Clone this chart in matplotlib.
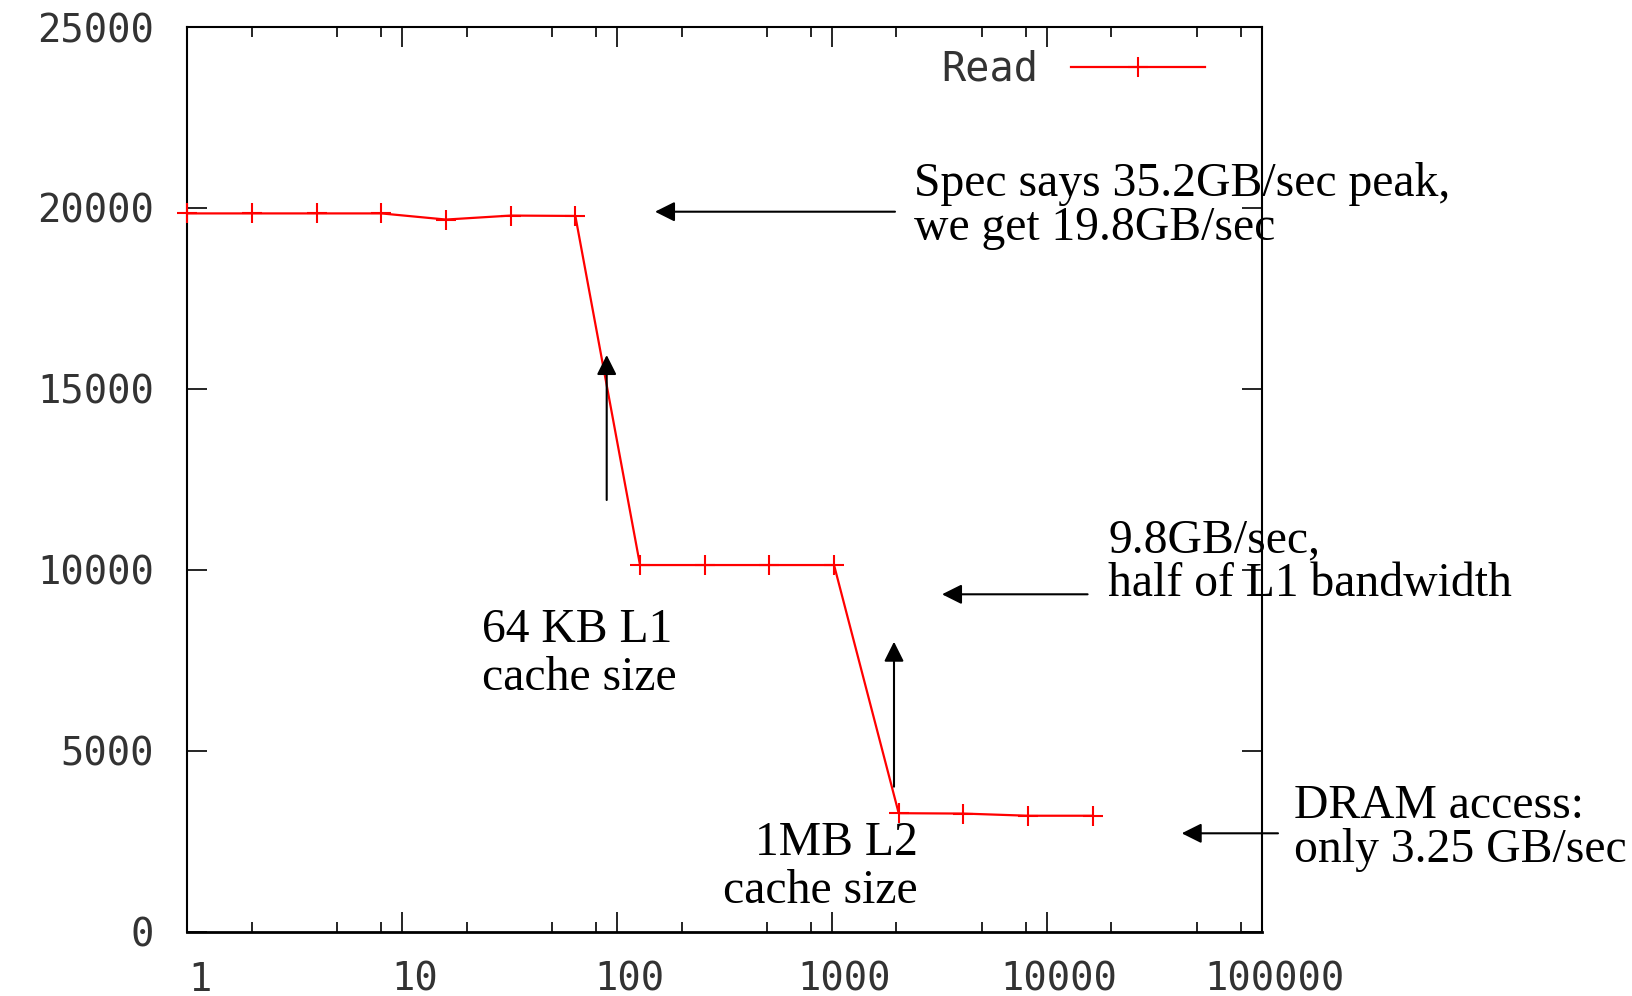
import numpy as np
import matplotlib
matplotlib.use('Agg')
import matplotlib.pyplot as plt
import matplotlib.transforms as mtransforms
from matplotlib.ticker import FixedLocator, NullFormatter

# working set size (KB) vs read bandwidth (MB/s)
sizes = [1, 2, 4, 8, 16, 32, 64, 128, 256, 512, 1024, 2048, 4096, 8192, 16384]
read = [19850, 19850, 19850, 19850, 19680, 19790, 19780,
        10130, 10130, 10130, 10130, 3270, 3260, 3200, 3200]

xticks = [1, 10, 100, 1000, 10000, 100000]
xlabels = ['1', '10', '100', '1000', '10000', '100000']
yticks = [0, 5000, 10000, 15000, 20000, 25000]
minor_x = [m * 10**e for e in range(5) for m in (2, 5, 8)]

W, H = 1632, 996
mono = 'DejaVu Sans Mono'
serif = 'Liberation Serif'

fig = plt.figure(figsize=(W / 100, H / 100), dpi=100)
ax = fig.add_axes([187.3 / W, 1 - 931.5 / H, (1261.5 - 187.3) / W, (931.5 - 27.1) / H])

ax.plot(sizes, read, color='#ff0000', lw=1.6, marker='+', ms=14, mew=1.5,
        label='Read', clip_on=False, zorder=3)

ax.set_xscale('log')
ax.set_xlim(1, 100000)
ax.set_ylim(0, 25000)

ax.set_xticks(xticks)
ax.set_xticklabels(xlabels)
ax.xaxis.set_minor_locator(FixedLocator(minor_x))
ax.xaxis.set_minor_formatter(NullFormatter())
ax.set_yticks(yticks)
ax.set_yticklabels([str(v) for v in yticks])

ax.tick_params(axis='both', which='major', direction='in', length=14.5, width=1.2,
               top=True, right=True, labelsize=28, colors='black', labelcolor='#333333')
ax.tick_params(axis='x', which='major', pad=21)
ax.tick_params(axis='y', which='major', pad=24)
ax.tick_params(axis='x', which='minor', direction='in', length=7.5, width=1.2, top=True)

for lbl in ax.get_xticklabels() + ax.get_yticklabels():
    lbl.set_fontfamily(mono)

# gnuplot style: labels sit a little right of their tick
offset = mtransforms.ScaledTranslation(12.5 / 100, 0, fig.dpi_scale_trans)
for lbl in ax.get_xticklabels():
    lbl.set_transform(lbl.get_transform() + offset)

# last label runs off the canvas edge
clip = mtransforms.TransformedBbox(
    mtransforms.Bbox([[0, 0], [1342.0 / W, 1]]), fig.transFigure)
last = ax.get_xticklabels()[-1]
last.set_clip_box(clip)
last.set_clip_on(True)

for s in ax.spines.values():
    s.set_linewidth(1.5)
ax.spines['bottom'].set_linewidth(2.0)

leg = ax.legend(loc='center right', bbox_to_anchor=(0.9474, 0.9526), frameon=False,
                markerfirst=False, handlelength=3.33, handletextpad=0.8,
                borderpad=0, borderaxespad=0, prop={'family': mono, 'size': 29})
for t in leg.get_texts():
    t.set_color('#333333')


def fp(x, y):
    # top-left pixel position -> figure fraction
    return (x / W, 1 - y / H)


arrow = dict(arrowstyle='-|>', color='black', lw=1.5, mutation_scale=30,
             shrinkA=0, shrinkB=0)

notes = [
    ('Spec says 35.2GB/sec peak,\nwe get 19.8GB/sec', (913.8, 206), 'left', 1.01,
     (655, 211.7), (895, 211.7)),
    ('64 KB L1\ncache size', (481.9, 654), 'left', 1.13,
     (606.7, 355), (606.7, 500)),
    ('9.8GB/sec,\nhalf of L1 bandwidth', (1108.5, 562), 'left', 0.99,
     (942, 594.3), (1087.6, 594.3)),
    ('1MB L2\ncache size', (918, 867), 'right', 1.1,
     (894, 641.7), (894, 786.7)),
    ('DRAM access:\nonly 3.25 GB/sec', (1293.7, 828), 'left', 1.01,
     (1181.7, 833.3), (1278, 833.3)),
]

for text, tpos, ha, spacing, tip, tail in notes:
    ax.annotate('', xy=fp(*tip), xycoords='figure fraction',
                xytext=fp(*tail), textcoords='figure fraction',
                arrowprops=arrow, annotation_clip=False)
    fig.text(*fp(*tpos), text, ha=ha, va='center', fontsize=34.3,
             family=serif, linespacing=spacing, multialignment=ha)

fig.savefig('out.png', dpi=100)
